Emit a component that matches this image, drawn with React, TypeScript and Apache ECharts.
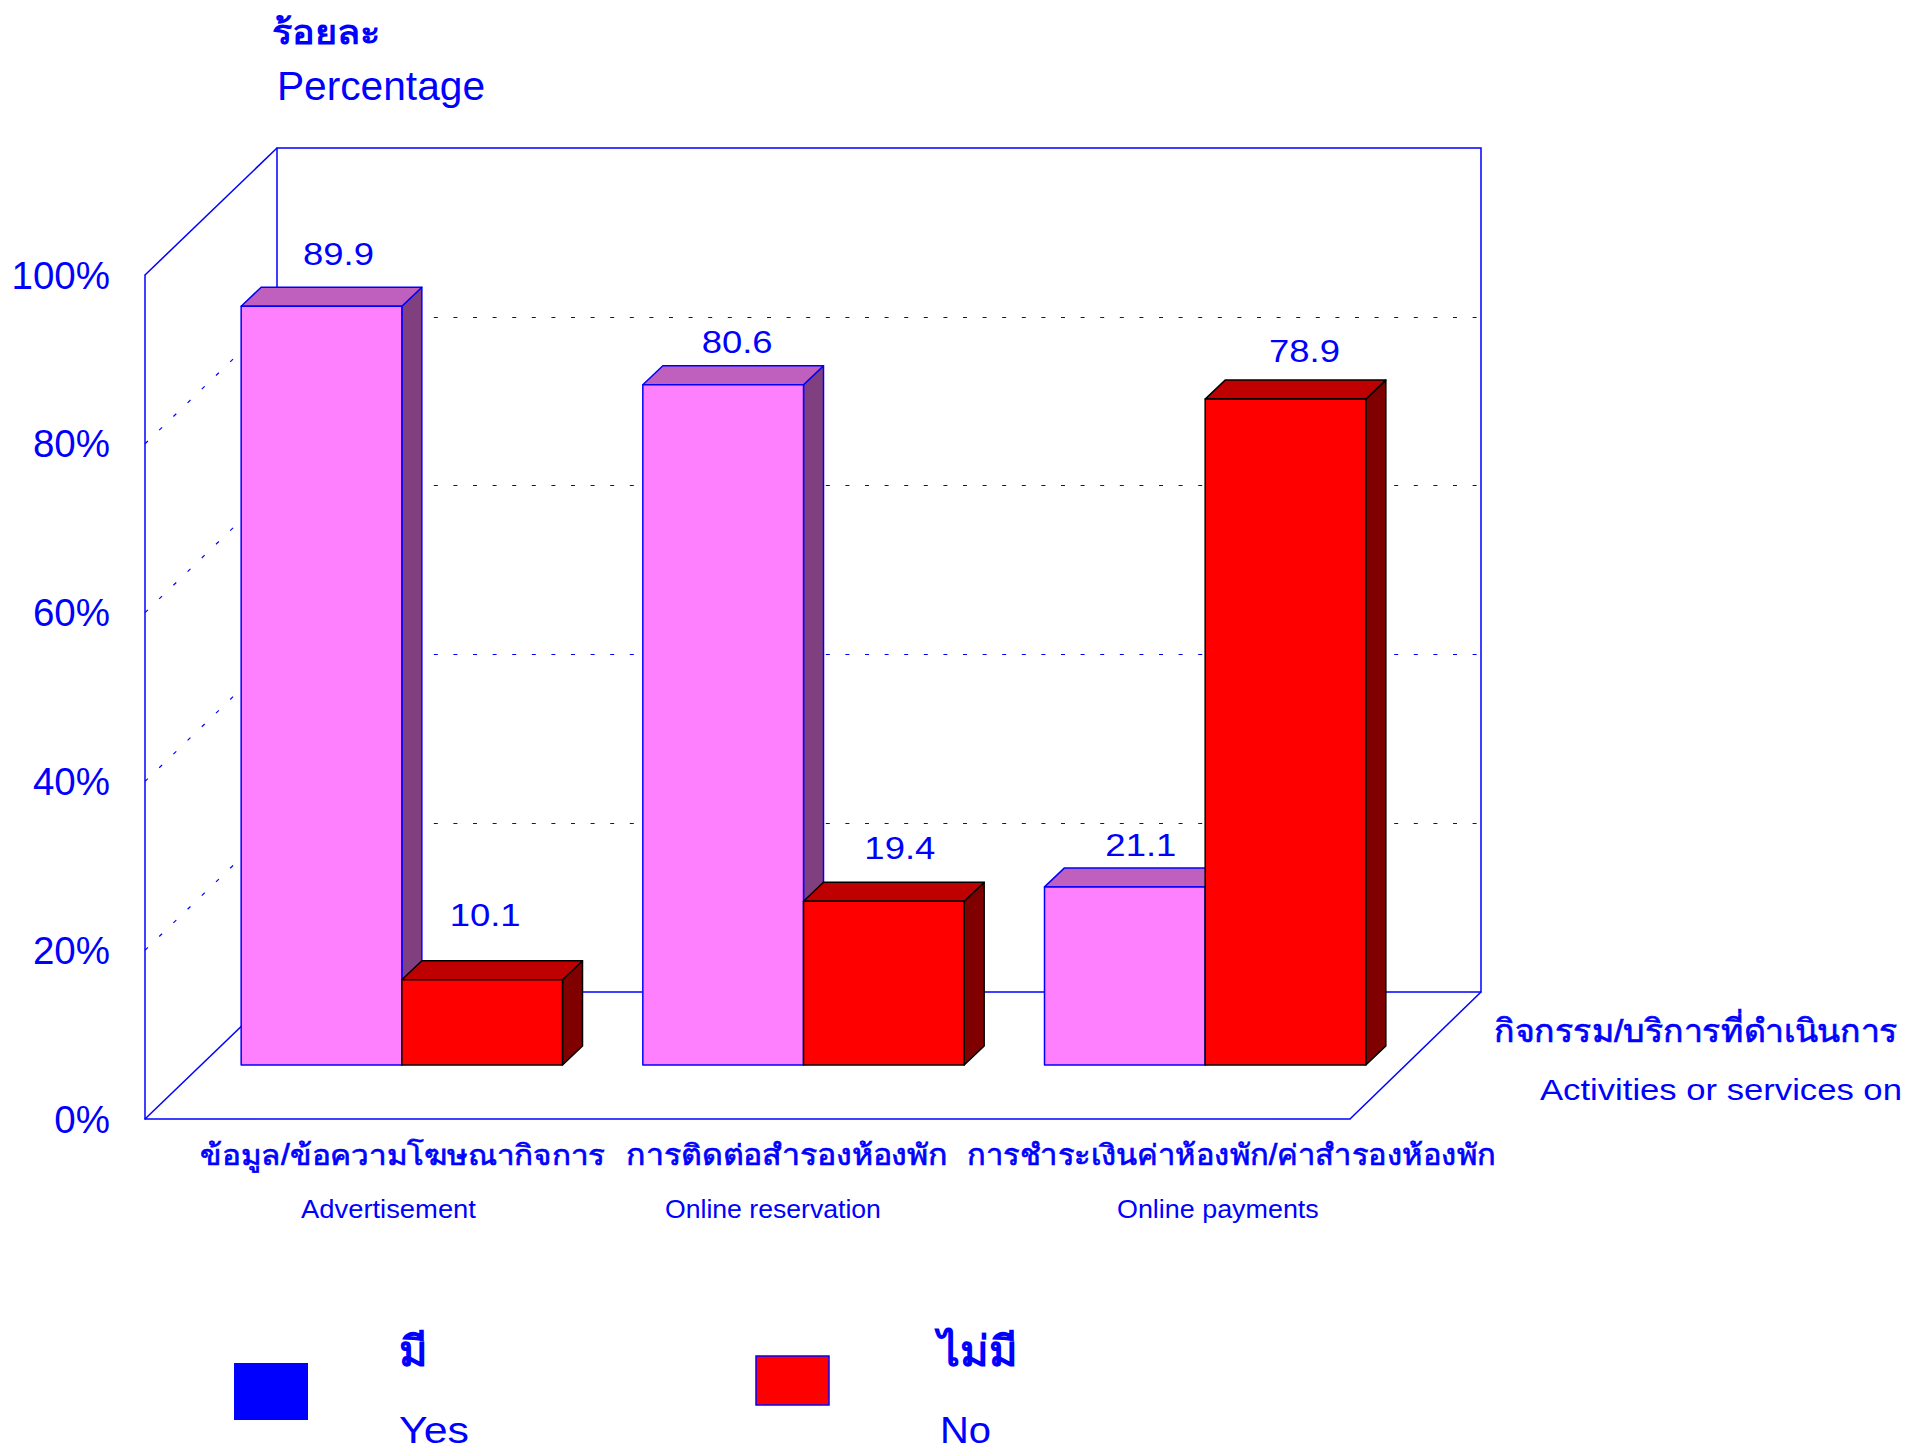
import React, { useEffect, useRef } from "react";
import * as echarts from "echarts";

const categoryIds = ["advertisement", "reservation", "payments"];
const yesValues = [89.9, 80.6, 21.1];
const noValues = [10.1, 19.4, 78.9];
const yTicks = [0, 20, 40, 60, 80, 100];

const BLUE = "#0000FF";
const FONT = "'Liberation Sans', Arial, 'Noto Sans', sans-serif";
const THAI = "'Liberation Sans', 'Noto Sans', sans-serif";

const front = { left: 145, top: 275, width: 1205, height: 844 };
const back = { left: 277, top: 148, width: 1204, height: 844 };
const barPlane = { left: 201, top: 221, width: 1205, height: 844 };
const DEPTH_X = 20;
const DEPTH_Y = 19;
const BAR_SHARE = 0.4;

const yesLabelNudge = [[17, -33], [14, -24], [16, -23]];
const noLabelNudge = [[3, -46], [16, -34], [19, -29]];

function fit(text: string, font: string, width: number) {
  const ctx = document.createElement("canvas").getContext("2d");
  if (!ctx) return 1;
  ctx.font = font;
  return width / ctx.measureText(text).width;
}

function label(text: string, x: number, w: number, y: number, size: number, bold = false, semi = false) {
  const weight = bold ? "bold" : "normal";
  const family = bold ? THAI : FONT;
  const extra = semi ? { stroke: BLUE, lineWidth: 0.7 } : {};
  return {
    type: "text",
    x,
    y,
    scaleX: fit(text, `${weight} ${size}px ${family}`, w),
    style: { text, fill: BLUE, font: `${weight} ${size}px ${family}`, textAlign: "left", textVerticalAlign: "middle", ...extra },
  };
}

function frameLine(x1: number, y1: number, x2: number, y2: number, dashed = false) {
  return {
    type: "line",
    shape: { x1, y1, x2, y2 },
    style: { stroke: BLUE, lineWidth: dashed ? 1.2 : 1.5, lineDash: dashed ? [4, 15.7] : undefined },
  };
}

function barSeries(name: string, values: number[], side: number, fill: string, top: string, dark: string, edge: string, nudge: number[][]) {
  return {
    name,
    type: "custom",
    xAxisIndex: 2,
    yAxisIndex: 2,
    z: 5,
    data: values.map((v, i) => [i, v]),
    encode: { x: 0, y: 1 },
    renderItem: (params: any, api: any) => {
      const idx = api.value(0);
      const val = api.value(1);
      const p = api.coord([idx, val]);
      const base = api.coord([idx, 0]);
      const band = api.size([1, 0])[0];
      const w = band * BAR_SHARE;
      const x0 = side < 0 ? p[0] - w : p[0];
      const x1 = x0 + w;
      const yT = p[1];
      const yB = base[1];
      const stroke = { stroke: edge, lineWidth: 1.5, lineJoin: "round" };
      const txt = String(val.toFixed(1));
      const n = nudge[params.dataIndex];
      return {
        type: "group",
        children: [
          { type: "polygon", shape: { points: [[x1, yT], [x1 + DEPTH_X, yT - DEPTH_Y], [x1 + DEPTH_X, yB - DEPTH_Y], [x1, yB]] }, style: { fill: dark, ...stroke } },
          { type: "polygon", shape: { points: [[x0, yT], [x0 + DEPTH_X, yT - DEPTH_Y], [x1 + DEPTH_X, yT - DEPTH_Y], [x1, yT]] }, style: { fill: top, ...stroke } },
          { type: "polygon", shape: { points: [[x0, yT], [x1, yT], [x1, yB], [x0, yB]] }, style: { fill, ...stroke } },
          {
            type: "text",
            x: (x0 + x1) / 2 + n[0],
            y: yT - DEPTH_Y + n[1],
            scaleX: 1.14,
            style: { text: txt, fill: BLUE, font: `32px ${FONT}`, textAlign: "center", textVerticalAlign: "middle" },
          },
        ],
      };
    },
  };
}

export default function App() {
  const ref = useRef<HTMLDivElement>(null);
  useEffect(() => {
    const chart = echarts.init(ref.current!, undefined, { renderer: "svg" });
    const hiddenX = { type: "category", data: categoryIds, axisLine: { show: false }, axisTick: { show: false }, axisLabel: { show: false }, splitLine: { show: false } };
    const hiddenY = { type: "value", min: 0, max: 100, interval: 20, axisLine: { show: false }, axisTick: { show: false }, axisLabel: { show: false }, splitLine: { show: false } };
    chart.setOption({
      animation: false,
      backgroundColor: "#FFFFFF",
      grid: [
        { ...front },
        { ...back, show: true, borderColor: BLUE, borderWidth: 1.5, backgroundColor: "transparent" },
        { ...barPlane },
      ],
      xAxis: [
        { ...hiddenX, gridIndex: 0, axisLine: { show: true, lineStyle: { color: BLUE, width: 1.5 } } },
        { ...hiddenX, gridIndex: 1 },
        { ...hiddenX, gridIndex: 2 },
      ],
      yAxis: [
        {
          ...hiddenY,
          gridIndex: 0,
          axisLine: { show: true, lineStyle: { color: BLUE, width: 1.5 } },
          axisLabel: { show: true, color: BLUE, fontSize: 38.5, fontFamily: FONT, margin: 35, customValues: yTicks, formatter: "{value}%" },
        },
        {
          ...hiddenY,
          gridIndex: 1,
          splitLine: { show: true, showMinLine: false, showMaxLine: false, lineStyle: { color: BLUE, width: 1.2, type: [4, 15.6] } },
        },
        { ...hiddenY, gridIndex: 2 },
      ],
      graphic: {
        elements: [
          frameLine(front.left, front.top, back.left, back.top),
          frameLine(front.left, front.top + front.height, back.left, back.top + back.height),
          frameLine(front.left + front.width, front.top + front.height, back.left + back.width, back.top + back.height),
          ...yTicks.slice(1, -1).map((t) => {
            const f = (1 - t / 100) * front.height;
            return frameLine(front.left, front.top + f, back.left, back.top + f, true);
          }),
          label("ร้อยละ", 272, 108, 32, 34, true),
          label("Percentage", 277, 208, 86, 40),
          label("ข้อมูล/ข้อความโฆษณากิจการ", 200, 406, 1155, 29, false, true),
          label("Advertisement", 301, 175, 1209, 26),
          label("การติดต่อสำรองห้องพัก", 626, 323, 1155, 29, false, true),
          label("Online reservation", 665, 216, 1209, 26),
          label("การชำระเงินค่าห้องพัก/ค่าสำรองห้องพัก", 967, 526, 1155, 29, false, true),
          label("Online payments", 1117, 202, 1209, 26),
          label("กิจกรรม/บริการที่ดำเนินการ", 1494, 402, 1031, 32, false, true),
          label("Activities or services on", 1540, 362, 1090, 29),
          { type: "rect", shape: { x: 234, y: 1363, width: 74, height: 57 }, style: { fill: BLUE } },
          label("มี", 399, 29, 1351, 42, true),
          label("Yes", 399, 70, 1430, 37),
          { type: "rect", shape: { x: 756, y: 1356, width: 73, height: 49 }, style: { fill: "#FF0000", stroke: BLUE, lineWidth: 1.5 } },
          label("ไม่มี", 938, 80, 1351, 42, true),
          label("No", 940, 51, 1430, 37),
        ],
      },
      series: [
        barSeries("มี", yesValues, -1, "#FF80FF", "#BF60BF", "#804080", BLUE, yesLabelNudge),
        barSeries("ไม่มี", noValues, 1, "#FF0000", "#BF0000", "#800000", "#000000", noLabelNudge),
      ],
    });
    return () => chart.dispose();
  }, []);
  return <div ref={ref} style={{ position: "absolute", left: 0, top: 0, width: 1905, height: 1450 }} />;
}
